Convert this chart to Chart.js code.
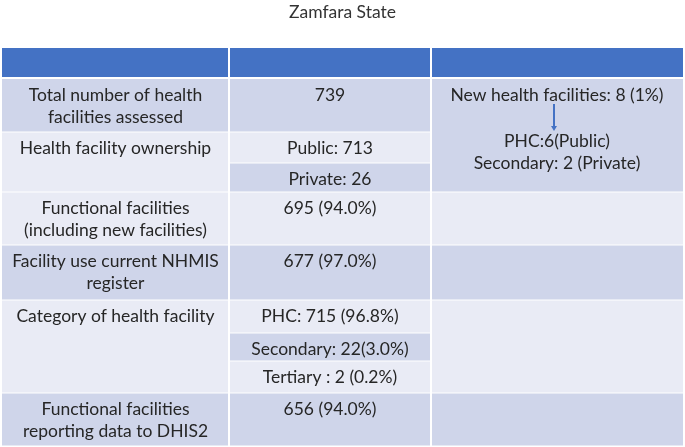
<!DOCTYPE html>
<html>
<head>
<meta charset="utf-8">
<script src="https://cdn.jsdelivr.net/npm/chart.js@4.4.1/dist/chart.umd.min.js"></script>
<style>
	html, body { margin: 0; padding: 0; background: #fff; }
	#wrap { width: 685px; height: 447px; }
</style>
</head>
<body>
<div id="wrap"><canvas id="chart" width="685" height="447"></canvas></div>
<script>

// table content
const title = 'Zamfara State';

const indicators = [
	['Total number of health', 'facilities assessed'],
	['Health facility ownership'],
	['Functional facilities', '(including new facilities)'],
	['Facility use current NHMIS', 'register'],
	['Category of health facility'],
	['Functional facilities', 'reporting data to DHIS2'],
];

const results = [
	['739'],
	['Public: 713', 'Private: 26'],
	['695 (94.0%)'],
	['677 (97.0%)'],
	['PHC: 715 (96.8%)', 'Secondary: 22(3.0%)', 'Tertiary : 2 (0.2%)'],
	['656 (94.0%)'],
];

const newFacilities = 'New health facilities: 8 (1%)';
const newFacilityTypes = ['PHC:6(Public)', 'Secondary: 2 (Private)'];

// layout (chart units, table area)
const colEdges = [0, 227, 429, 681];
const headerHeight = 29;
const gridRowHeights = [53, 31, 29, 53, 55, 33, 28, 32, 53];

const HEADER = '#4472C4';
const DARK = '#CFD5EA';
const LIGHT = '#E9EBF5';
const TEXT = '#262626';
const FONT = '17.5px Lato';

let gridTops = [];
let acc = headerHeight + 2;
gridRowHeights.forEach((h) => { gridTops.push(acc); acc += h; });
gridTops.push(acc);

const tablePlugin = {
	id: 'table',
	afterDraw(chart) {
		let ctx = chart.ctx;
		let x = chart.scales.x;
		let y = chart.scales.y;

		let rect = (x0, x1, y0, y1, color) => {
			let left = x.getPixelForValue(x0);
			let top = y.getPixelForValue(y0);
			ctx.fillStyle = color;
			ctx.fillRect(left, top, x.getPixelForValue(x1) - left, y.getPixelForValue(y1) - top);
		};

		let lines = (texts, col, y0) => {
			let cx = (x.getPixelForValue(colEdges[col]) + x.getPixelForValue(colEdges[col + 1])) / 2;
			ctx.fillStyle = TEXT;
			ctx.font = FONT;
			ctx.textAlign = 'center';
			ctx.textBaseline = 'middle';
			texts.forEach((t, i) => {
				ctx.fillText(t, cx, y.getPixelForValue(y0) + 16 + i * 22);
			});
			return cx;
		};

		let cell = (col, g0, g1, texts) => {
			let color = g0 % 2 === 0 ? DARK : LIGHT;
			let x0 = colEdges[col] + (col > 0 ? 1 : 0);
			let x1 = colEdges[col + 1] - (col < 2 ? 1 : 0);
			let y0 = gridTops[g0] + (g0 > 0 ? 0.5 : 0);
			let y1 = gridTops[g1 + 1] - 0.5;
			rect(x0, x1, y0, y1, color);
			if (texts) lines(texts, col, gridTops[g0]);
		};

		ctx.save();

		// header
		for (let c = 0; c < 3; c++) {
			let x0 = colEdges[c] + (c > 0 ? 1 : 0);
			let x1 = colEdges[c + 1] - (c < 2 ? 1 : 0);
			rect(x0, x1, 0, headerHeight, HEADER);
		}

		let g = 0;
		indicators.forEach((label, k) => {
			let vals = results[k];
			cell(0, g, g + vals.length - 1, label);
			vals.forEach((v, i) => cell(1, g + i, g + i, [v]));
			if (k === 0) {
				let span = vals.length + results[1].length;
				cell(2, g, g + span - 1, null);
				let cx = lines([newFacilities], 2, gridTops[g]);
				let top = y.getPixelForValue(gridTops[g]);
				lines(newFacilityTypes, 2, gridTops[g] + 46);
				// arrow
				let ax = cx - 3;
				ctx.strokeStyle = HEADER;
				ctx.lineWidth = 2;
				ctx.beginPath();
				ctx.moveTo(ax, top + 25);
				ctx.lineTo(ax, top + 48);
				ctx.stroke();
				ctx.fillStyle = HEADER;
				ctx.beginPath();
				ctx.moveTo(ax - 3, top + 47);
				ctx.lineTo(ax + 3, top + 47);
				ctx.lineTo(ax, top + 52);
				ctx.closePath();
				ctx.fill();
			} else if (k > 1) {
				cell(2, g, g + vals.length - 1, null);
			}
			g += vals.length;
		});

		ctx.restore();
	},
};

new Chart(document.getElementById('chart'), {
	type: 'scatter',
	data: { datasets: [] },
	options: {
		responsive: false,
		animation: false,
		events: [],
		layout: { padding: { left: 2, right: 2, top: 0, bottom: 1 } },
		scales: {
			x: { type: 'linear', min: 0, max: colEdges[3], display: false },
			y: { type: 'linear', min: 0, max: gridTops[gridTops.length - 1], reverse: true, display: false },
		},
		plugins: {
			legend: { display: false },
			tooltip: { enabled: false },
			title: {
				display: true,
				text: title,
				color: '#333333',
				font: { family: 'Lato', size: 17.5, weight: 'normal', lineHeight: 1.2 },
				padding: { top: 2, bottom: 25 },
			},
		},
	},
	plugins: [tablePlugin],
});

</script>
</body>
</html>
